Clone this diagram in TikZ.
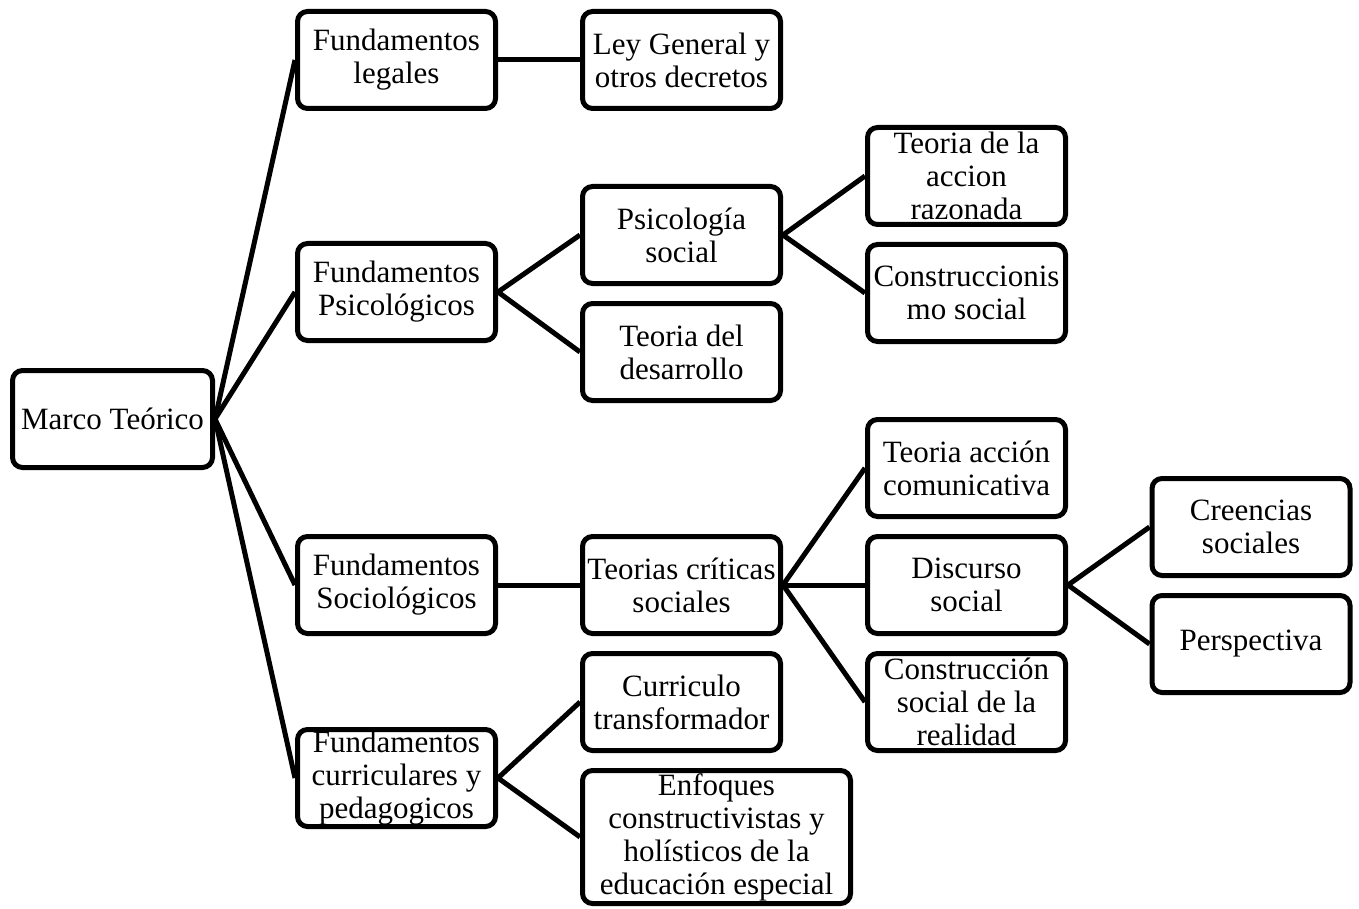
\documentclass[tikz,border=0pt]{standalone}
\usepackage{fontspec}
\setmainfont{Liberation Serif}
\begin{document}
\begin{tikzpicture}[x=1pt,y=-1pt,
  box/.style={draw, line width=5pt, rounded corners=10pt, minimum width=198pt, minimum height=97pt,
    align=center, inner sep=0pt, font=\fontsize{31}{33}\selectfont},
  link/.style={line width=5pt}]
\useasboundingbox (0,0) rectangle (1359,909);
\node[box, minimum width=200pt] (m) at (112.5,419) {Marco Teórico};
\node[box] (fl) at (396.5,60) {Fundamentos\\legales};
\node[box] (ley) at (681.5,60) {Ley General y\\otros decretos};
\node[box] (fp) at (396.5,292) {Fundamentos\\Psicológicos};
\node[box] (ps) at (681.5,235) {Psicología\\social};
\node[box] (td) at (681.5,352) {Teoria del\\desarrollo};
\node[box] (tar) at (966.5,176) {Teoria de la\\accion\\razonada};
\node[box] (cs) at (966.5,293) {Construccionis\\mo social};
\node[box] (fs) at (396.5,585) {Fundamentos\\Sociológicos};
\node[box] (tcs) at (681.5,585) {Teorias críticas\\sociales};
\node[box] (tac) at (966.5,468) {Teoria acción\\comunicativa};
\node[box] (ds) at (966.5,585) {Discurso\\social};
\node[box] (csr) at (966.5,702) {Construcción\\social de la\\realidad};
\node[box] (cr) at (1251,527) {Creencias\\sociales};
\node[box] (pe) at (1251,644) {Perspectiva};
\node[box] (fc) at (396.5,778) {Fundamentos\\curriculares y\\pedagogicos};
\node[box] (ct) at (681.5,702) {Curriculo\\transformador};
\node[box, minimum width=268pt, minimum height=133pt] (en) at (716.5,837) {Enfoques\\constructivistas y\\holísticos de la\\educación especial};
\foreach \a/\b in {m/fl,m/fp,m/fs,m/fc,fl/ley,fp/ps,fp/td,ps/tar,ps/cs,fs/tcs,tcs/tac,tcs/ds,tcs/csr,ds/cr,ds/pe,fc/ct,fc/en}
  \draw[link] (\a.east) -- (\b.west);
\end{tikzpicture}
\end{document}
